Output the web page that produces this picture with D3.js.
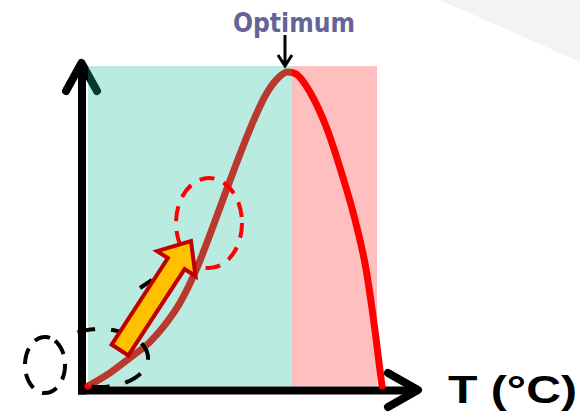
<!DOCTYPE html>
<html>
<head>
<meta charset="utf-8">
<script src="https://cdn.jsdelivr.net/npm/d3@7"></script>
<style>
  html, body { margin: 0; padding: 0; background: #ffffff; }
  svg { display: block; }
</style>
</head>
<body>
<div id="chart"></div>
<script>
// ---- Data ----
const temperature = [0, 7.5, 14.3, 21.1, 26.2, 31.3, 37.1, 41.5, 45.9, 51.0, 55.8, 60.2, 64.3, 68.0, 70.7, 75.5, 81.3, 86.4, 90.8, 94.6, 97.6, 100];
const rate        = [0, 4.2, 9.0, 14.1, 19.6, 26.6, 37.8, 48.4, 59.6, 72.4, 83.7, 92.6, 98.1, 100.3, 99.7, 93.9, 82.1, 67.6, 53.2, 37.2, 17.9, 0];
const zoneNames = ["favourable", "unfavourable"];
const zoneStart = [0, 69.4];
const zoneEnd   = [69.4, 98.3];
const zoneTop   = 102.2;
const optimumT  = 67.0;
const axisTitle = "T (°C)";
const optimumLabel = "Optimum";

// ---- Layout ----
const W = 580, H = 412;
const svg = d3.select("#chart").append("svg").attr("width", W).attr("height", H);

const x = d3.scaleLinear().domain([0, 100]).range([88, 382]);
const y = d3.scaleLinear().domain([0, 100]).range([386, 73]);

// subtle grey background wedge (top-right)
svg.append("path")
  .attr("d", "M440,0 L580,62 L580,0 Z")
  .attr("fill", "#f2f3f3");

// unfavourable zone (pink) below the curve
svg.append("rect")
  .attr("x", x(zoneStart[1])).attr("y", y(zoneTop))
  .attr("width", x(zoneEnd[1]) - x(zoneStart[1]))
  .attr("height", y(0) - y(zoneTop))
  .attr("fill", "#ffbfbf");

// ---- Axes (no ticks) ----
const axisX = d3.scaleLinear().domain([0, 100]).range([77.5, 414]);
const axisY = d3.scaleLinear().domain([0, 100]).range([394, 66]);
const gx = svg.append("g").attr("transform", "translate(0,390)")
  .call(d3.axisBottom(axisX).tickValues([]).tickSizeOuter(0));
const gy = svg.append("g").attr("transform", "translate(81.5,0)")
  .call(d3.axisLeft(axisY).tickValues([]).tickSizeOuter(0));
[gx, gy].forEach(g => g.select(".domain").attr("stroke", "#000").attr("stroke-width", 8));

svg.append("path")
  .attr("d", "M388,373 L418,390 L388,407")
  .attr("fill", "none").attr("stroke", "#000").attr("stroke-width", 8)
  .attr("stroke-linejoin", "round").attr("stroke-linecap", "round");
svg.append("path")
  .attr("d", "M66,91 L81.5,63 L97,91")
  .attr("fill", "none").attr("stroke", "#000").attr("stroke-width", 8)
  .attr("stroke-linejoin", "round").attr("stroke-linecap", "round");

// ---- Curve ----
const pts = temperature.map((t, i) => [t, rate[i]]);
svg.append("path")
  .datum(pts)
  .attr("d", d3.line().x(d => x(d[0])).y(d => y(d[1])).curve(d3.curveMonotoneX))
  .attr("fill", "none")
  .attr("stroke", "#ff0000")
  .attr("stroke-width", 7)
  .attr("stroke-linecap", "round");

// favourable zone (teal) drawn as translucent overlay
svg.append("rect")
  .attr("x", x(zoneStart[0])).attr("y", y(zoneTop))
  .attr("width", x(zoneEnd[0]) - x(zoneStart[0]))
  .attr("height", y(0) - y(zoneTop))
  .attr("fill", "rgb(26,188,156)")
  .attr("fill-opacity", 0.3);

// ---- Dashed annotations ----
function ellipsePts(cx, cy, rx, ry, a0, a1, n) {
  return d3.range(n + 1).map(i => {
    const a = (a0 + (a1 - a0) * i / n) * Math.PI / 180;
    return [cx + rx * Math.cos(a), cy + ry * Math.sin(a)];
  });
}
const ln = d3.line();
// small black ellipse left of origin
svg.append("path")
  .attr("d", ln(ellipsePts(45, 365, 20, 28, -60, 300, 80)) )
  .attr("fill", "none").attr("stroke", "#000").attr("stroke-width", 4)
  .attr("stroke-dasharray", "16 10");
// black arc around curve start
svg.append("path")
  .attr("d", ln(ellipsePts(100, 358, 48, 29, -118, 100, 90)))
  .attr("fill", "none").attr("stroke", "#000").attr("stroke-width", 4)
  .attr("stroke-dasharray", "18 16");
svg.append("path")
  .attr("d", "M140,288 L152,280")
  .attr("fill", "none").attr("stroke", "#000").attr("stroke-width", 4);

// red dashed ellipse
svg.append("ellipse")
  .attr("cx", 209).attr("cy", 223).attr("rx", 33).attr("ry", 45)
  .attr("fill", "none").attr("stroke", "#ff0000").attr("stroke-width", 4)
  .attr("stroke-dasharray", "15 10");

// ---- Yellow block arrow ----
(function () {
  const tail = [120, 350], tip = [191, 241];
  const dx = tip[0] - tail[0], dy = tip[1] - tail[1];
  const L = Math.hypot(dx, dy);
  const u = [dx / L, dy / L], n = [-u[1], u[0]];
  const hw = 10, hhw = 23, hl = 27;
  const neck = [tip[0] - u[0] * hl, tip[1] - u[1] * hl];
  const P = (p, k) => [p[0] + n[0] * k, p[1] + n[1] * k];
  const poly = [P(tail, hw), P(neck, hw), P(neck, hhw), tip, P(neck, -hhw), P(neck, -hw), P(tail, -hw)];
  svg.append("path")
    .attr("d", d3.line()(poly) + "Z")
    .attr("fill", "#ffc000").attr("stroke", "#c00000").attr("stroke-width", 4)
    .attr("stroke-linejoin", "miter");
})();

// ---- Labels ----
svg.append("text")
  .attr("x", 294).attr("y", 32)
  .attr("text-anchor", "middle")
  .attr("font-family", "DejaVu Sans, Verdana, sans-serif")
  .attr("font-weight", "bold")
  .attr("font-size", 26)
  .attr("textLength", 122).attr("lengthAdjust", "spacingAndGlyphs")
  .attr("fill", "#646497")
  .text(optimumLabel);

const ox = x(optimumT);
svg.append("path")
  .attr("d", `M${ox},35 V66 M${ox - 7},55 L${ox},66 L${ox + 7},55`)
  .attr("fill", "none").attr("stroke", "#000").attr("stroke-width", 3);

svg.append("text")
  .attr("x", 448).attr("y", 403)
  .attr("font-family", "Liberation Sans, Arial, sans-serif")
  .attr("font-weight", "bold")
  .attr("font-size", 39)
  .attr("textLength", 129).attr("lengthAdjust", "spacingAndGlyphs")
  .attr("fill", "#000")
  .text(axisTitle);
</script>
</body>
</html>
